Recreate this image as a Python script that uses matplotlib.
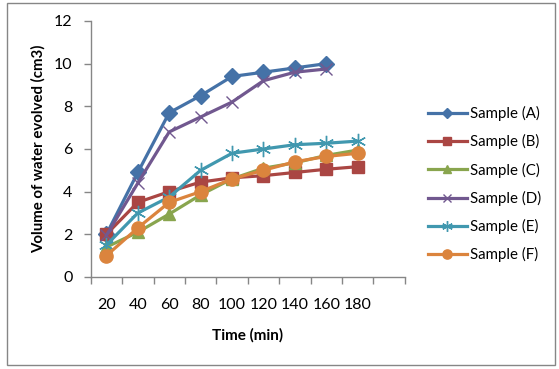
import matplotlib
matplotlib.use("Agg")
import matplotlib.pyplot as plt
from matplotlib.patches import Rectangle

plt.rcParams['font.family'] = ['Lato', 'DejaVu Sans']

times = ["20", "40", "60", "80", "100", "120", "140", "160", "180"]
sample_a = [2.0, 4.9, 7.7, 8.5, 9.4, 9.6, 9.8, 10.0]
sample_b = [2.0, 3.5, 4.0, 4.45, 4.65, 4.75, 4.9, 5.05, 5.17]
sample_c = [1.4, 2.1, 2.95, 3.85, 4.6, 5.1, 5.35, 5.7, 5.95]
sample_d = [1.95, 4.4, 6.8, 7.5, 8.2, 9.2, 9.6, 9.75]
sample_e = [1.5, 3.0, 3.75, 5.0, 5.8, 6.0, 6.2, 6.27, 6.37]
sample_f = [1.0, 2.3, 3.5, 4.0, 4.6, 5.0, 5.4, 5.65, 5.8]

series = [
    ("Sample (A)", sample_a, "#4572A7", "D", 8),
    ("Sample (B)", sample_b, "#AA4643", "s", 9),
    ("Sample (C)", sample_c, "#89A54E", "^", 9),
    ("Sample (D)", sample_d, "#71588F", "x", 9),
    ("Sample (E)", sample_e, "#4198AF", "*", 11),
    ("Sample (F)", sample_f, "#DB843D", "o", 9.5),
]

W, H = 559, 369
fig = plt.figure(figsize=(W / 100, H / 100), dpi=100)
ax = fig.add_axes([90.7 / W, 1 - 277 / H, (404.7 - 90.7) / W, (277 - 21) / H])

for name, vals, col, mk, ms in series:
    xs = list(range(1, len(vals) + 1))
    if mk == "x":
        ax.plot(xs, vals, color=col, lw=2.3, marker="x", ms=ms, mew=1.0, label=name)
    elif mk == "*":
        ax.plot(xs, vals, color=col, lw=2.3, marker=(6, 2, 0), ms=ms, mew=1.0, label=name)
    else:
        ax.plot(xs, vals, color=col, lw=2.3, marker=mk, ms=ms, mec=col, label=name)

ax.set_xlim(0.5, 10.5)
ax.set_ylim(0, 12)
ax.set_yticks(range(0, 13, 2))
ax.set_xticks([i + 0.5 for i in range(0, 11)])
ax.set_xticklabels([])
ax.set_xticks(range(1, len(times) + 1), minor=True)
ax.set_xticklabels(times, minor=True)
ax.tick_params(axis="x", which="major", length=5, width=1, color="#868686", direction="out")
ax.tick_params(axis="x", which="minor", length=0, pad=15, labelsize=11.5)
ax.tick_params(axis="y", length=5, width=1, color="#868686", direction="out", labelsize=11.5, pad=8)

for s in ["top", "right"]:
    ax.spines[s].set_visible(False)
for s in ["left", "bottom"]:
    ax.spines[s].set_color("#868686")
    ax.spines[s].set_linewidth(1)

fig.text(247.7 / W, 1 - 335 / H, "Time (min)", ha="center", va="center",
         fontsize=11, fontweight="bold")
fig.text(38 / W, 1 - 149 / H, "Volume of water evolved (cm3)", ha="center", va="center",
         rotation=90, fontsize=10.8, fontweight="bold")

leg = ax.legend(loc="upper left", bbox_to_anchor=(422 / W, 1 - 100 / H), bbox_transform=fig.transFigure,
                frameon=False, fontsize=10.8, handlelength=2.6, handletextpad=0.2,
                labelspacing=0.88, markerscale=0.7, borderaxespad=0)

fig.patches.append(Rectangle((6.5 / W, 1 - 365 / H), (555 - 6.5) / W, (365 - 2.5) / H,
                             transform=fig.transFigure, fill=False, edgecolor="#868686", lw=1))

fig.savefig("out.png", dpi=100)
